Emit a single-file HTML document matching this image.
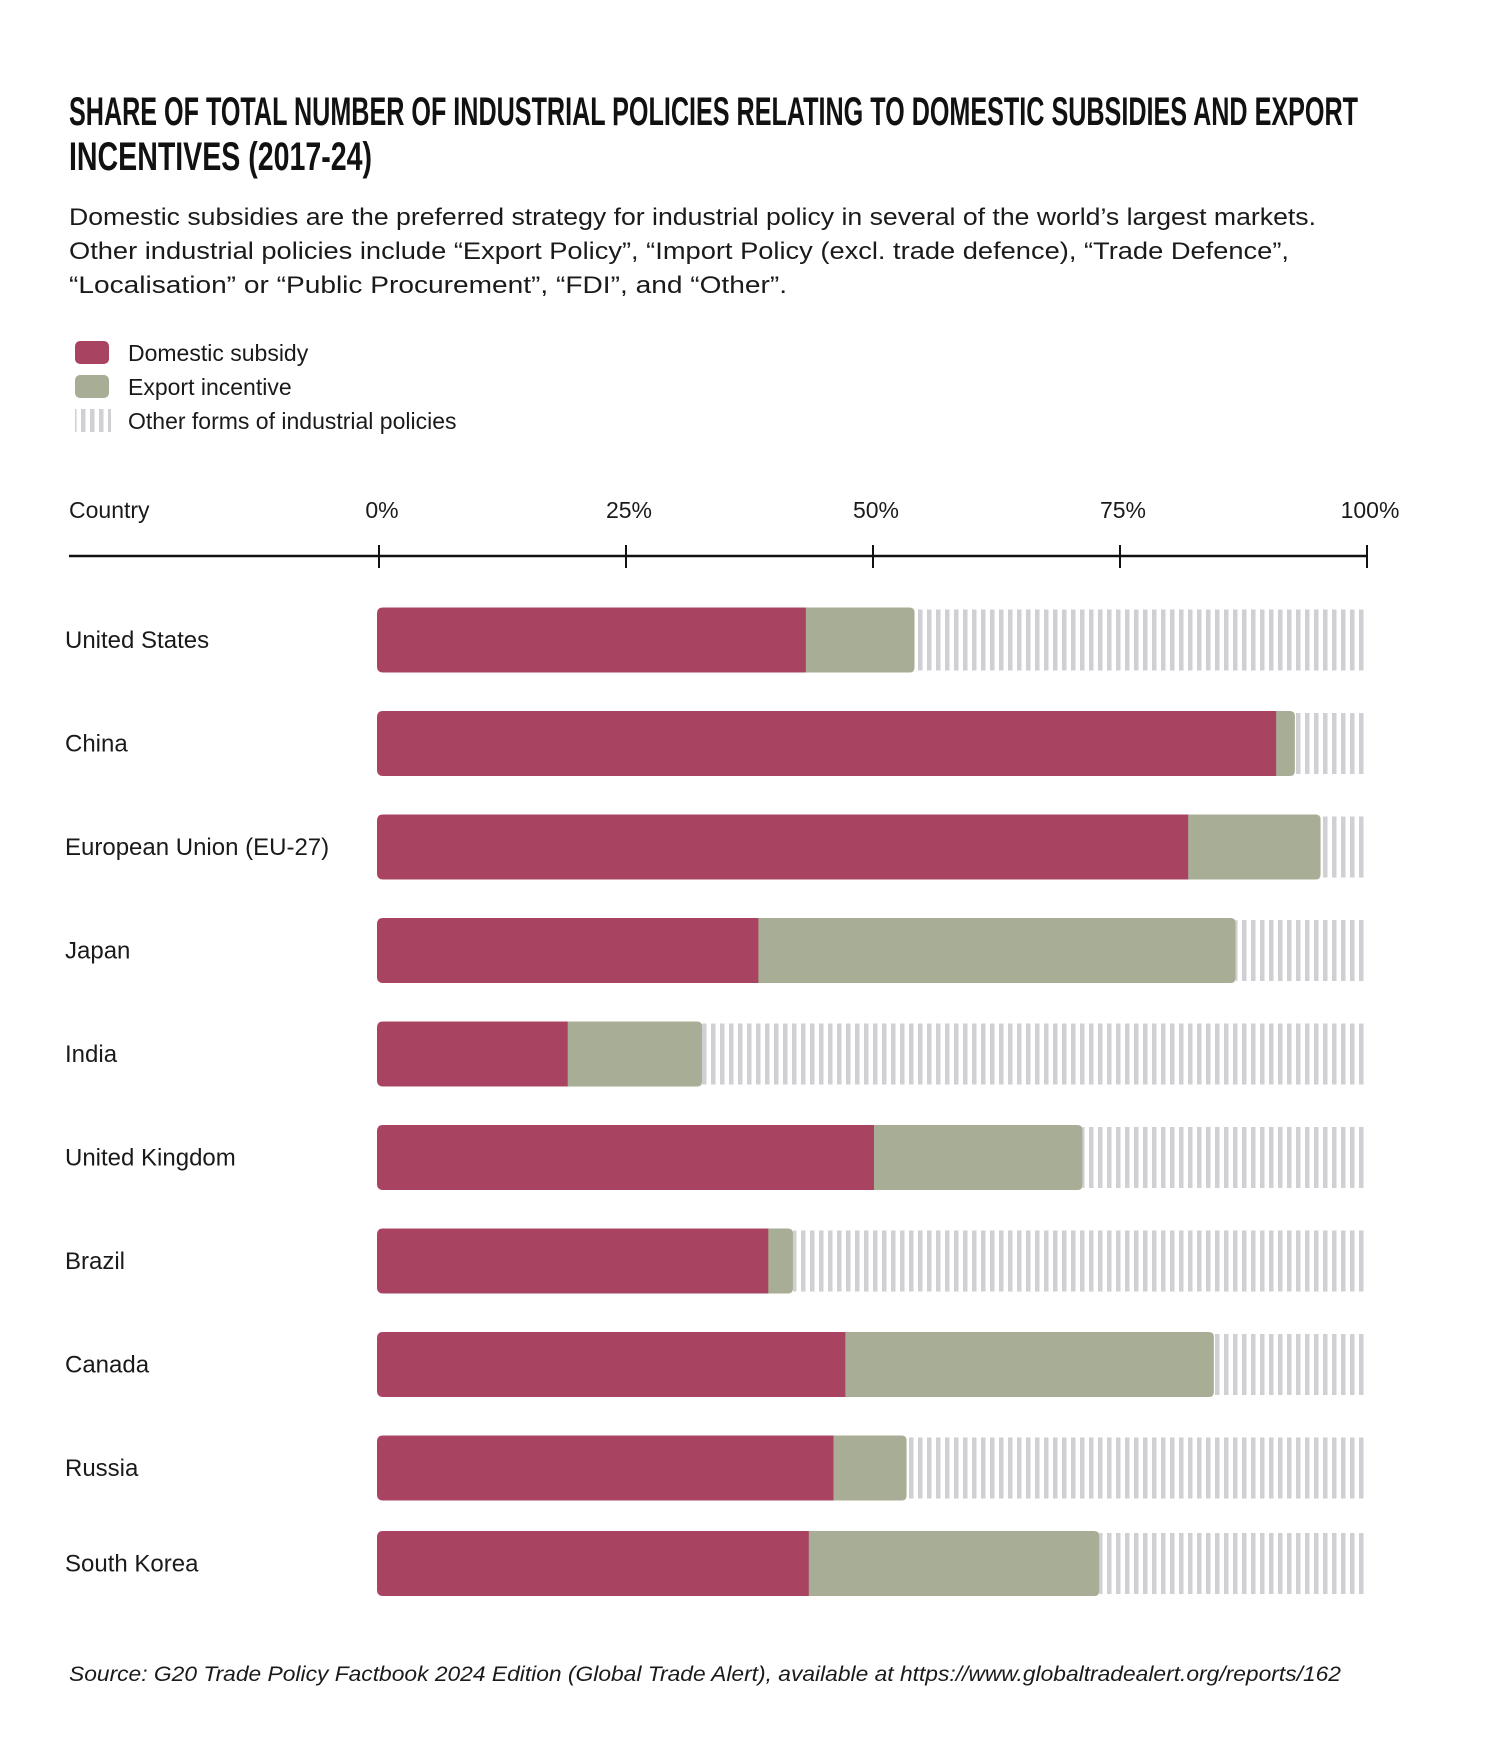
<!DOCTYPE html>
<html><head><meta charset="utf-8"><style>
html,body{margin:0;padding:0;background:#fff;}
svg{display:block;}
text{font-family:"Liberation Sans",sans-serif;fill:#1a1a1a;}
.t{font-family:"Liberation Sans Narrow","Liberation Sans",sans-serif;font-weight:bold;font-size:40px;fill:#111;}
</style></head><body>
<svg id="chart" width="1500" height="1764" viewBox="0 0 1500 1764" xmlns="http://www.w3.org/2000/svg">
<defs>
<pattern id="hatch" patternUnits="userSpaceOnUse" width="9" height="10"><rect x="0" y="0" width="4.5" height="10" fill="#cfcfd4"/></pattern>
</defs>
<text class="t" x="69" y="125" textLength="1289" lengthAdjust="spacingAndGlyphs">SHARE OF TOTAL NUMBER OF INDUSTRIAL POLICIES RELATING TO DOMESTIC SUBSIDIES AND EXPORT</text>
<text class="t" x="69" y="170" textLength="303" lengthAdjust="spacingAndGlyphs">INCENTIVES (2017-24)</text>
<g font-size="24">
<text x="69" y="225" textLength="1247" lengthAdjust="spacingAndGlyphs">Domestic subsidies are the preferred strategy for industrial policy in several of the world’s largest markets.</text>
<text x="69" y="259" textLength="1220" lengthAdjust="spacingAndGlyphs">Other industrial policies include “Export Policy”, “Import Policy (excl. trade defence), “Trade Defence”,</text>
<text x="69" y="293" textLength="718" lengthAdjust="spacingAndGlyphs">“Localisation” or “Public Procurement”, “FDI”, and “Other”.</text>
</g>
<g font-size="23">
<rect x="75" y="341" width="34" height="23" rx="5" fill="#a84462"/>
<text x="128" y="361">Domestic subsidy</text>
<rect x="75" y="375" width="34" height="23" rx="5" fill="#a8ad95"/>
<text x="128" y="395">Export incentive</text>
<rect x="75" y="409" width="36" height="23" fill="url(#hatch)"/>
<text x="128" y="429">Other forms of industrial policies</text>
</g>
<text x="69" y="518" font-size="23">Country</text>
<g id="axis"></g>
<g id="bars"></g>
<text x="69" y="1681" font-size="21" font-style="italic" fill="#333" textLength="1272" lengthAdjust="spacingAndGlyphs">Source: G20 Trade Policy Factbook 2024 Edition (Global Trade Alert), available at https://www.globaltradealert.org/reports/162</text>
</svg>
<script>
const countries = ["United States","China","European Union (EU-27)","Japan","India","United Kingdom","Brazil","Canada","Russia","South Korea"];
const domestic = [43.2,90.8,81.9,38.4,19.1,50.1,39.4,47.2,46.0,43.5];
const exportInc = [11.0,1.9,13.4,48.3,13.6,21.1,2.5,37.3,7.4,29.4];
const ticks = [0,25,50,75,100];
const tickLabels = ["0%","25%","50%","75%","100%"];

const NS="http://www.w3.org/2000/svg";
const X0=379, X1=1367;
const xs=v=>X0+(X1-X0)*v/100;
const rowY=i=>640+i*103.5-(i===9?8:0);
const BH=65;
function mk(tag,attrs,parent){const e=document.createElementNS(NS,tag);for(const k in attrs)e.setAttribute(k,attrs[k]);parent.appendChild(e);return e;}
const axis=document.getElementById('axis');
const al=mk('line',{x1:69,x2:X1,y1:556,y2:556,stroke:'#111','stroke-width':2.5},axis);


ticks.forEach((t,i)=>{
  const l=mk('line',{x1:xs(t),x2:xs(t),y1:545,y2:568,stroke:'#111','stroke-width':2},axis);
  
  
  const tx=mk('text',{x:xs(t)+3,y:518,'font-size':23,'text-anchor':'middle'},axis);
  
  
  tx.textContent=tickLabels[i];
});
const bars=document.getElementById('bars');
function roundRect(x,y,w,h,rl,rr){
  return `M${x+rl},${y}H${x+w-rr}Q${x+w},${y} ${x+w},${y+rr}V${y+h-rr}Q${x+w},${y+h} ${x+w-rr},${y+h}H${x+rl}Q${x},${y+h} ${x},${y+h-rl}V${y+rl}Q${x},${y} ${x+rl},${y}Z`;
}
countries.forEach((c,i)=>{
  const cy=rowY(i), y=cy-BH/2;
  const lab=mk('text',{x:65,y:cy+8,'font-size':24},bars);
  
  
  lab.textContent=c;
  const e=domestic[i]+exportInc[i];
  const h=mk('rect',{x:xs(e),y:y+2,width:Math.max(0,X1-xs(e)),height:BH-4,fill:'url(#hatch)'},bars);
  
  
  const ex=mk('path',{d:roundRect(xs(domestic[i])-6,y,xs(e)-xs(domestic[i])+6,BH,0,5),fill:'#a8ad95'},bars);
  
  
  const d=mk('path',{d:roundRect(X0-2,y,xs(domestic[i])-X0+2,BH,6,0),fill:'#a84462'},bars);
  
  
});
</script>
</body></html>
